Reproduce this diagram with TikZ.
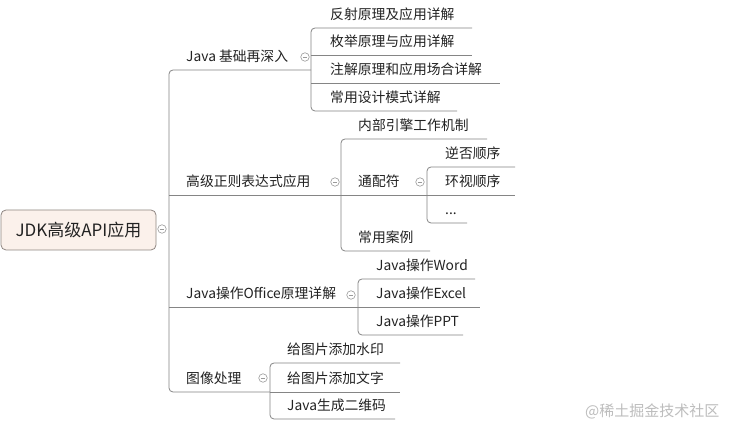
\documentclass[tikz,border=0pt]{standalone}
\usepackage{fontspec}
\setmainfont{Noto Sans CJK SC}
\definecolor{linegray}{HTML}{858585}
\definecolor{foldgray}{HTML}{9A9A9A}
\definecolor{txt}{HTML}{222222}
\definecolor{rootfill}{HTML}{FBF1EB}
\definecolor{rootdraw}{HTML}{8F8682}
\definecolor{wmgray}{HTML}{BDBDBD}
\newcommand\mmitem[6]{%
  \coordinate (#1s) at (#2,#4);
  \coordinate (#1e) at (#5,#4);
  \node[topic] (#1) at (#3,#4-8) {#6};
}
\begin{document}
\begin{tikzpicture}[x=1pt,y=-1pt,
  tline/.style={draw=linegray, line width=0.8pt},
  bracket/.style={tline, rounded corners=4pt},
  topic/.style={anchor=base west, inner sep=0pt, text=txt, font=\fontsize{13.8}{16}\selectfont},
  rootbox/.style={draw=rootdraw, fill=rootfill, line width=0.8pt, rounded corners=5pt,
    minimum width=155pt, minimum height=40pt, inner sep=0pt, text=txt, font=\fontsize{17}{20}\selectfont},
  fold/.style={circle, draw=foldgray, fill=white, minimum size=8.5pt, inner sep=0pt, line width=0.6pt,
    path picture={\draw[foldgray, line width=0.6pt] ([xshift=-2.2pt]path picture bounding box.center) -- ([xshift=2.2pt]path picture bounding box.center);}},
  watermark/.style={text=wmgray, font=\fontsize{15}{18}\selectfont, inner sep=0pt}
]
\useasboundingbox[fill=white] (0,0) rectangle (740,435);

% root
\node[rootbox] (root) at (78.5,230) {JDK高级API应用};
\node[fold] (f0) at (162,229) {};

% level 1
\mmitem{t1}{169}{186}{70}{311}{Java 基础再深入}
\mmitem{t2}{169}{186}{195}{341}{高级正则表达式应用}
\mmitem{t3}{169}{186}{307}{358}{Java操作Office原理详解}
\mmitem{t4}{169}{186}{392}{270}{图像处理}
\node[fold] (f1) at (305,57) {};
\node[fold] (f2) at (335,182) {};
\node[fold] (f3) at (351,295) {};
\node[fold] (f4) at (263,378) {};
\draw[bracket] (t1e) -- (t1s) -- (t4s) -- (t4e);
\draw[tline] (t2s) -- (t2e);
\draw[tline] (t3s) -- (t3e);

% Java 基础再深入
\mmitem{a1}{311}{330}{28}{472}{反射原理及应用详解}
\mmitem{a2}{311}{330}{55}{472}{枚举原理与应用详解}
\mmitem{a3}{311}{330}{83}{500}{注解原理和应用场合详解}
\mmitem{a4}{311}{330}{111}{457}{常用设计模式详解}
\draw[bracket] (a1e) -- (a1s) -- (a4s) -- (a4e);
\draw[tline] (a2s) -- (a2e);
\draw[tline] (a3s) -- (a3e);

% 高级正则表达式应用
\mmitem{b1}{341}{358}{139}{487}{内部引擎工作机制}
\mmitem{b2}{341}{358}{195}{427}{通配符}
\mmitem{b3}{341}{358}{251}{430}{常用案例}
\node[fold] (f5) at (420,182) {};
\draw[bracket] (b1e) -- (b1s) -- (b3s) -- (b3e);
\draw[tline] (b2s) -- (b2e);

% 通配符
\mmitem{c1}{427}{445}{167}{515}{逆否顺序}
\mmitem{c2}{427}{445}{195}{515}{环视顺序}
\mmitem{c3}{427}{445}{223}{467}{...}
\draw[bracket] (c1e) -- (c1s) -- (c3s) -- (c3e);
\draw[tline] (c2s) -- (c2e);

% Java操作Office原理详解
\mmitem{d1}{358}{376}{279}{475}{Java操作Word}
\mmitem{d2}{358}{376}{307}{480}{Java操作Excel}
\mmitem{d3}{358}{376}{335}{463}{Java操作PPT}
\draw[bracket] (d1e) -- (d1s) -- (d3s) -- (d3e);
\draw[tline] (d2s) -- (d2e);

% 图像处理
\mmitem{e1}{270}{287}{363}{400}{给图片添加水印}
\mmitem{e2}{270}{287}{392}{400}{给图片添加文字}
\mmitem{e3}{270}{287}{419}{395}{Java生成二维码}
\draw[bracket] (e1e) -- (e1s) -- (e3s) -- (e3e);
\draw[tline] (e2s) -- (e2e);

% watermark
\node[watermark, anchor=west] (wm) at (585,411) {@稀土掘金技术社区};
\end{tikzpicture}
\end{document}
